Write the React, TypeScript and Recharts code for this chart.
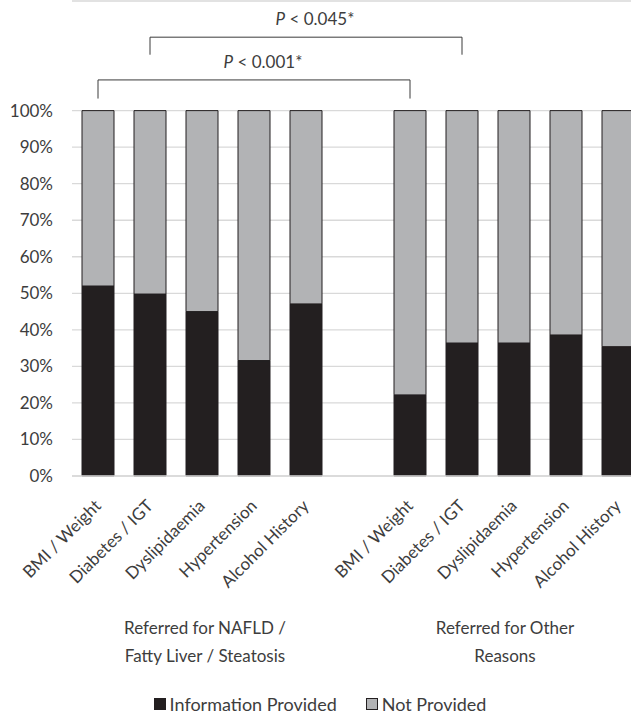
import {
  BarChart,
  Bar,
  XAxis,
  YAxis,
  CartesianGrid,
  Legend,
  ReferenceLine,
} from 'recharts';

const categories = ['BMI / Weight', 'Diabetes / IGT', 'Dyslipidaemia', 'Hypertension', 'Alcohol History'];
const naflProvided = [0.52, 0.498, 0.45, 0.316, 0.471];
const otherProvided = [0.222, 0.364, 0.364, 0.386, 0.354];
const groupLabels = [['Referred for NAFLD /', 'Fatty Liver / Steatosis'], ['Referred for Other', 'Reasons']];
const yTicks = [0, 0.1, 0.2, 0.3, 0.4, 0.5, 0.6, 0.7, 0.8, 0.9, 1];
const comparisons = [
  { from: 0, to: 0, text: '0.001*' },
  { from: 1, to: 1, text: '0.045*' },
];

const FONT = 'Lato, "Open Sans", sans-serif';
const TEXT = '#3d3d3d';
const DARK = '#231f20';
const GREY = '#b2b3b5';

// one row per slot, with an empty slot between the two groups
const data = [
  ...categories.map((c, i) => ({ key: `n${i}`, label: c, provided: naflProvided[i], notProvided: 1 - naflProvided[i] })),
  { key: 'gap', label: '', provided: null, notProvided: null },
  ...categories.map((c, i) => ({ key: `o${i}`, label: c, provided: otherProvided[i], notProvided: 1 - otherProvided[i] })),
];
const labelOf: Record<string, string> = Object.fromEntries(data.map((d) => [d.key, d.label]));

function CategoryTick({ x, y, payload }: any) {
  const text = labelOf[payload.value];
  if (!text) return null;
  const tx = x + 4;
  const ty = y + 31;
  return (
    <text x={tx} y={ty} transform={`rotate(-45, ${tx}, ${ty})`} textAnchor="end" fill={TEXT} fontSize={17} fontFamily={FONT}>
      {text}
    </text>
  );
}

function PLabel(text: string) {
  return ({ viewBox }: any) => (
    <text
      x={viewBox.x + viewBox.width / 2 + 9}
      y={viewBox.y - 12}
      textAnchor="middle"
      fill={TEXT}
      fontSize={17}
      fontFamily={FONT}
    >
      <tspan fontStyle="italic">P</tspan>
      {` < ${text}`}
    </text>
  );
}

function LegendContent({ payload }: any) {
  return (
    <div style={{ display: 'flex', justifyContent: 'center', alignItems: 'center', height: 22, fontFamily: FONT, fontSize: 18, color: TEXT }}>
      {(payload || []).map((p: any, i: number) => (
        <span key={p.value} style={{ display: 'flex', alignItems: 'center', marginLeft: i ? 29 : 0 }}>
          <span style={{ width: 10, height: 10, background: p.color, border: `1px solid ${DARK}`, marginRight: 4 }} />
          {p.value}
        </span>
      ))}
    </div>
  );
}

export default function App() {
  const levels = [
    { top: 1.084, bottom: 1.033 },
    { top: 1.201, bottom: 1.153 },
  ];
  return (
    <div style={{ position: 'absolute', left: 0, top: 0, width: 631, height: 715, overflow: 'hidden', background: '#fff' }}>
      <BarChart width={660} height={715} data={data} margin={{ top: 1, right: 16, bottom: 0, left: 0 }} barSize={32}>
        <CartesianGrid vertical={false} stroke="#d9d9d9" strokeWidth={1.3} />
        <XAxis
          dataKey="key"
          interval={0}
          height={217}
          axisLine={{ stroke: '#d9d9d9', strokeWidth: 1.3 }}
          tickLine={false}
          tickSize={0}
          tickMargin={0}
          tick={<CategoryTick />}
        />
        <YAxis
          width={72}
          domain={[0, 1.3]}
          ticks={yTicks}
          axisLine={false}
          tickLine={false}
          tickSize={0}
          tickMargin={19}
          tickFormatter={(v: number) => `${Math.round(v * 100)}%`}
          tick={{ fill: TEXT, fontSize: 17, fontFamily: FONT }}
        />
        <Legend verticalAlign="bottom" wrapperStyle={{ width: 640 }} content={<LegendContent />} />
        <Bar dataKey="provided" name="Information Provided" stackId="a" fill={DARK} stroke={DARK} strokeWidth={1} isAnimationActive={false} />
        <Bar dataKey="notProvided" name="Not Provided" stackId="a" fill={GREY} stroke={DARK} strokeWidth={1} isAnimationActive={false} />
        {comparisons.map((c, i) => {
          const a = `n${c.from}`;
          const b = `o${c.to}`;
          const lv = levels[i];
          return [
            <ReferenceLine key={`l${i}`} segment={[{ x: a, y: lv.bottom }, { x: a, y: lv.top }]} stroke="#3a3a3a" strokeWidth={1} />,
            <ReferenceLine key={`h${i}`} segment={[{ x: a, y: lv.top }, { x: b, y: lv.top }]} stroke="#3a3a3a" strokeWidth={1} label={PLabel(c.text)} />,
            <ReferenceLine key={`r${i}`} segment={[{ x: b, y: lv.top }, { x: b, y: lv.bottom }]} stroke="#3a3a3a" strokeWidth={1} />,
          ];
        })}
      </BarChart>
      {groupLabels.map((lines, i) => (
        <div
          key={i}
          style={{
            position: 'absolute',
            left: (i === 0 ? 205 : 505) - 150,
            top: 614,
            width: 300,
            textAlign: 'center',
            lineHeight: '28px',
            fontFamily: FONT,
            fontSize: 17,
            color: TEXT,
          }}
        >
          {lines.map((l) => (
            <div key={l}>{l}</div>
          ))}
        </div>
      ))}
    </div>
  );
}
